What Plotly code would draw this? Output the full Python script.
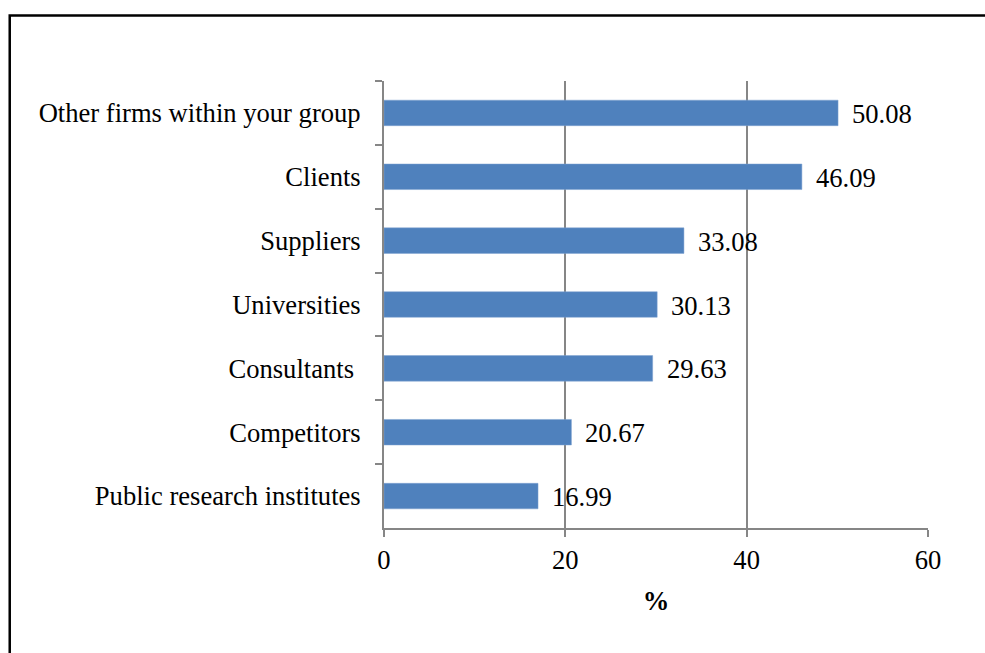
import plotly.graph_objects as go

categories = ["Other firms within your group", "Clients", "Suppliers", "Universities",
              "Consultants\u00a0", "Competitors", "Public research institutes"]
values = [50.08, 46.09, 33.08, 30.13, 29.63, 20.67, 16.99]
x_ticks = [0, 20, 40, 60]

FONT = "Liberation Serif, Times New Roman, serif"
GRAY = "#868686"
FS = 26.6

fig = go.Figure()
fig.add_trace(go.Bar(
    x=values, y=categories, orientation="h",
    marker=dict(color="#4F81BD", line=dict(color="#7EA3D1", width=0.5)),
    width=0.4, hoverinfo="skip",
))

for v, c in zip(values, categories):
    fig.add_annotation(x=v, y=c, xref="x", yref="y", text=f"{v:.2f}",
                       showarrow=False, xanchor="left", yanchor="middle",
                       xshift=12, yshift=-1, font=dict(family=FONT, size=FS, color="black"))

# outer border
fig.add_shape(type="rect", xref="paper", yref="paper",
              x0=-0.688, x1=2.0, y0=-1.0, y1=1.1465,
              line=dict(color="black", width=2.5), fillcolor="rgba(0,0,0,0)")

fig.update_layout(
    width=985, height=653,
    margin=dict(l=384, r=57, t=81, b=125),
    paper_bgcolor="white", plot_bgcolor="white",
    showlegend=False,
    font=dict(family=FONT, size=FS, color="black"),
    xaxis=dict(range=[0, 60], tickvals=x_ticks, ticktext=[str(t) for t in x_ticks],
               showgrid=True, gridcolor=GRAY, gridwidth=1.5,
               showline=True, linecolor=GRAY, linewidth=2,
               ticks="outside", ticklen=7, tickcolor=GRAY, tickwidth=2,
               zeroline=False, fixedrange=True,
               tickfont=dict(family=FONT, size=FS),
               title=dict(text="<b>%</b>", font=dict(family=FONT, size=FS), standoff=17)),
    yaxis=dict(autorange="reversed", showgrid=False,
               showline=True, linecolor=GRAY, linewidth=2,
               ticks="outside", ticklen=7, tickcolor=GRAY, tickwidth=2,
               tickson="boundaries", ticklabelstandoff=16,
               tickfont=dict(family=FONT, size=FS), fixedrange=True),
)

fig.write_html("out.html")
